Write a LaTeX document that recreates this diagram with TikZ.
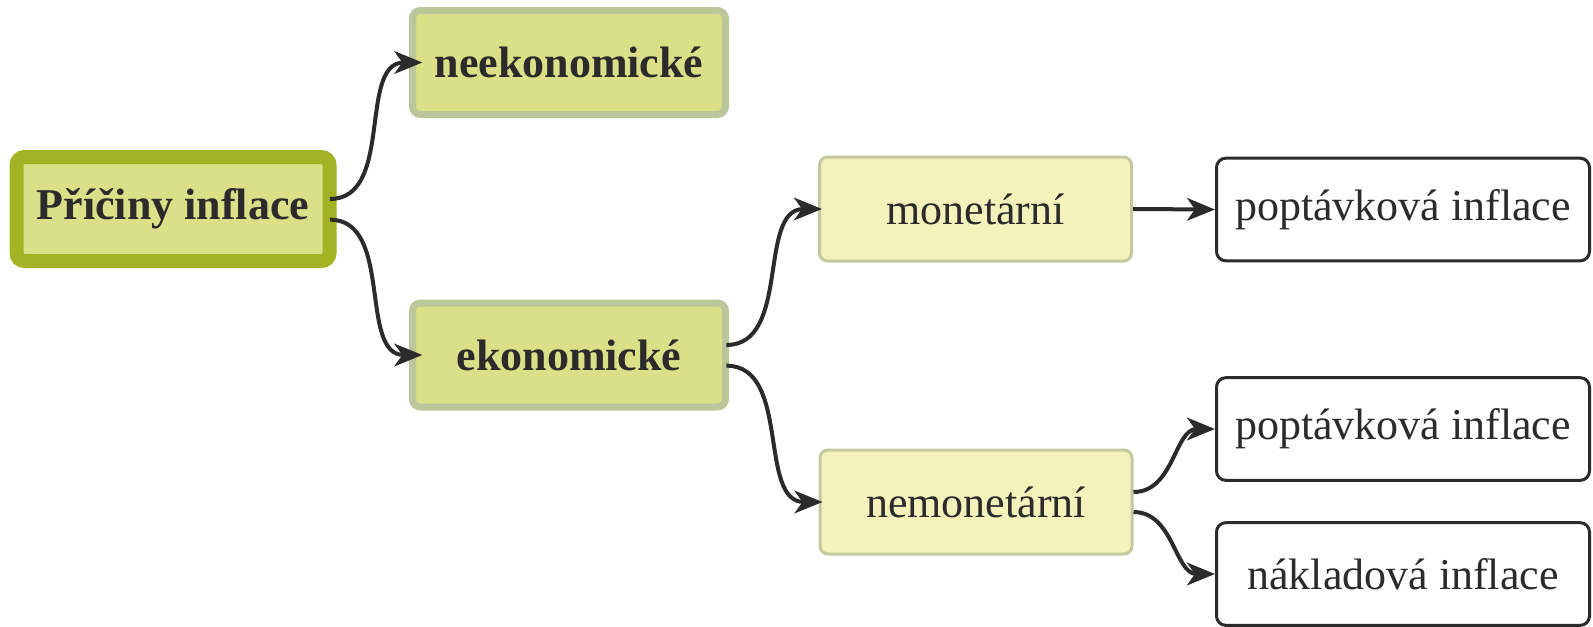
\documentclass[tikz,border=0pt]{standalone}
\usepackage{fontspec}
\setmainfont{Liberation Serif}
\usetikzlibrary{arrows.meta,positioning}

\definecolor{rootline}{HTML}{A2B424}
\definecolor{rootfill}{HTML}{DAE088}
\definecolor{subline}{HTML}{BCC69B}
\definecolor{subfill}{HTML}{DAE087}
\definecolor{leafline}{HTML}{C3CA9E}
\definecolor{leaffill}{HTML}{F4F2BB}
\definecolor{inkgray}{HTML}{2B2B2B}

\begin{document}
\begin{tikzpicture}
		[x=0.75pt,y=-0.75pt,
		 box/.style={shape=rectangle,rounded corners=6pt,inner sep=0pt,text=inkgray,
		   font=\fontsize{33}{40}\selectfont},
		 root node/.style={box,draw=rootline,fill=rootfill,line width=10.5pt,
		   minimum width=234.75pt,minimum height=78pt,font=\fontsize{33}{40}\selectfont\bfseries},
		 cause node/.style={box,draw=subline,fill=subfill,line width=5.25pt,
		   minimum width=234.75pt,minimum height=78pt,font=\fontsize{33}{40}\selectfont\bfseries},
		 kind node/.style={box,draw=leafline,fill=leaffill,line width=2.25pt,
		   minimum width=234pt,minimum height=78pt},
		 type node/.style={box,draw=inkgray,fill=white,line width=2.25pt,rounded corners=7pt,
		   minimum width=279.75pt,minimum height=77pt},
		 link/.style={draw=inkgray,line width=3pt,-{Stealth[length=21pt,width=17pt,inset=6pt]}}]
		\useasboundingbox (0,0) rectangle (1593,626);
		
		\node [root node] (pricin) at (173,209) {Příčiny inflace} ;
		\node [cause node] (neek) at (569,62.5) {neekonomické} ;
		\node [cause node] (ekon) at (569,355) {ekonomické} ;
		
		\node [kind node] (monet) at (975.5,209) {monetární} ;
		\node [kind node] (nemonet) at (976,502) {nemonetární} ;
		
		\node [type node] (popt1) at (1403,209.5) {poptávková inflace} ;
		\node [type node] (popt2) at (1403,429) {poptávková inflace} ;
		\node [type node] (naklad) at (1403,574) {nákladová inflace} ;
		
		\path[every edge/.append style={link}]
		([xshift=-5pt,yshift=7.5pt]pricin.east) edge [out=0,in=180] ([xshift=10pt]neek.west)
		([xshift=-5pt,yshift=-8pt]pricin.east) edge [out=0,in=180] ([xshift=10pt]ekon.west)
		
		([xshift=-2pt,yshift=7.5pt]ekon.east) edge [out=0,in=180] ([xshift=3pt]monet.west)
		([xshift=-2pt,yshift=-8pt]ekon.east) edge [out=0,in=180] ([xshift=3pt]nemonet.west)
		
		(monet.east) edge (popt1.west)
		
		([yshift=7.5pt]nemonet.east) edge [out=0,in=180] (popt2.west)
		([yshift=-7.5pt]nemonet.east) edge [out=0,in=180] (naklad.west)
		;
		
\end{tikzpicture}
\end{document}
